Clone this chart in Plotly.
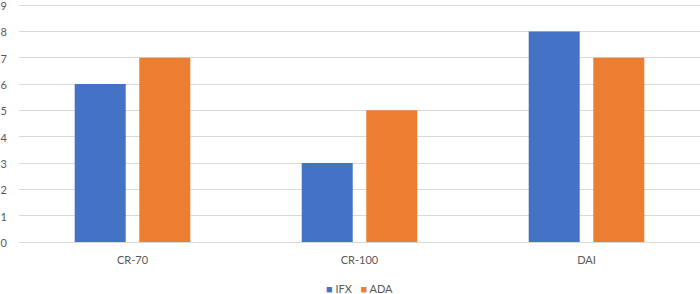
import plotly.graph_objects as go

categories = ["CR-70", "CR-100", "DAI"]
ifx = [6, 3, 8]
ada = [7, 5, 7]
y_ticks = list(range(0, 10))
series_names = ["IFX", "ADA"]
series_colors = ["#4472C4", "#ED7D31"]

fig = go.Figure()
fig.add_trace(go.Bar(name=series_names[0], x=categories, y=ifx, marker=dict(color=series_colors[0], line=dict(width=0))))
fig.add_trace(go.Bar(name=series_names[1], x=categories, y=ada, marker=dict(color=series_colors[1], line=dict(width=0))))

legend_text = "   ".join(
    f'<span style="color:{c}">■</span> {n}' for n, c in zip(series_names, series_colors)
)

fig.update_layout(
    width=700, height=294,
    margin=dict(l=19, r=0, t=4, b=52, autoexpand=False),
    barmode="group", bargap=0.431, bargroupgap=0.21,
    plot_bgcolor="white", paper_bgcolor="white",
    font=dict(family="Lato, Carlito, sans-serif", size=11, color="#595959"),
    showlegend=False,
    annotations=[dict(text=legend_text, xref="paper", yref="paper", x=0.5, y=-46 / 238,
                      xanchor="center", yanchor="middle", showarrow=False,
                      font=dict(size=11, color="#595959"))],
)
fig.update_yaxes(range=[0, 9.04], tickvals=y_ticks, showgrid=True, gridcolor="#D9D9D9", gridwidth=1,
                 zeroline=False, showline=False, ticks="", ticklabelstandoff=11, automargin=False,
                 ticklabeloverflow="allow", ticklabelshift=1)
fig.update_xaxes(showline=True, linecolor="#D9D9D9", linewidth=1, ticks="", ticklabelstandoff=8, automargin=False)

fig.write_html("out.html", config={"displayModeBar": False},
               post_script="document.body.style.margin='0';document.body.style.overflow='hidden';")
